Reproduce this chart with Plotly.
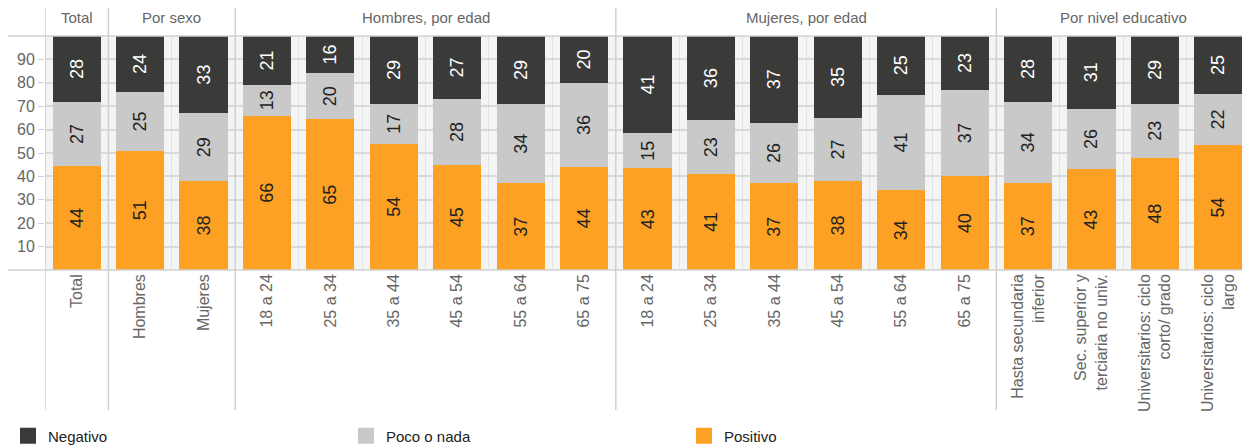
import plotly.graph_objects as go

# Categories (x axis) and group headers
categorias = ['Total', 'Hombres', 'Mujeres',
              '18 a 24', '25 a 34', '35 a 44', '45 a 54', '55 a 64', '65 a 75',
              '18 a 24', '25 a 34', '35 a 44', '45 a 54', '55 a 64', '65 a 75',
              'Hasta secundaria<br>inferior', 'Sec. superior y<br>terciaria no univ.',
              'Universitarios: ciclo<br>corto/ grado', 'Universitarios: ciclo<br>largo']
grupos = ['Total', 'Por sexo', 'Hombres, por edad', 'Mujeres, por edad', 'Por nivel educativo']
grupo_tamanos = [1, 2, 6, 6, 4]

# Series values (%)
positivo = [44, 51, 38, 66, 65, 54, 45, 37, 44, 43, 41, 37, 38, 34, 40, 37, 43, 48, 54]
poco_nada = [27, 25, 29, 13, 20, 17, 28, 34, 36, 15, 23, 26, 27, 41, 37, 34, 26, 23, 22]
negativo = [28, 24, 33, 21, 16, 29, 27, 29, 20, 41, 36, 37, 35, 25, 23, 28, 31, 29, 25]

y_ticks = [10, 20, 30, 40, 50, 60, 70, 80, 90]

x = list(range(len(categorias)))
FONT = 'Liberation Sans, Arial, sans-serif'
GRIS_TXT = '#666666'
LINEA = '#d0d0d0'

series = [('Positivo', positivo, '#fda124', '#222222'),
          ('Poco o nada', poco_nada, '#c9c9c9', '#222222'),
          ('Negativo', negativo, '#3a3a39', '#ffffff')]

fig = go.Figure()

for nombre, valores, color, txtcolor in series:
    fig.add_trace(go.Bar(
        x=x, y=valores, name=nombre, showlegend=False,
        marker=dict(color=color, line=dict(width=0)),
        text=[str(v) for v in valores], texttemplate='%{text}',
        textposition='inside', insidetextanchor='middle', textangle=-90,
        textfont=dict(color=txtcolor, size=18, family=FONT),
        hoverinfo='name+y'))

# legend entries with larger square swatches
for nombre, valores, color, txtcolor in reversed(series):
    fig.add_trace(go.Scatter(x=[None], y=[None], mode='markers', name=nombre,
                             marker=dict(symbol='square', size=16, color=color)))

# group separators and header labels
shapes = []
annotations = []
inicio = 0
bordes = [-0.5]
for nombre, n in zip(grupos, grupo_tamanos):
    centro = inicio + (n - 1) / 2
    annotations.append(dict(x=centro, y=1.077, xref='x', yref='paper', text=nombre,
                            yanchor='middle', xanchor='center', showarrow=False,
                            font=dict(size=15, color=GRIS_TXT, family=FONT)))
    inicio += n
    bordes.append(inicio - 0.5)

for b in bordes[:-1]:
    shapes.append(dict(type='line', xref='x', yref='paper', x0=b, x1=b, y0=-0.598, y1=1.12,
                       line=dict(color=LINEA, width=1.5)))

# horizontal rules at top and bottom of plot, extended to the left
for yy in [0, 1]:
    shapes.append(dict(type='line', xref='paper', yref='paper', x0=-0.031, x1=1, y0=yy, y1=yy,
                       line=dict(color=LINEA, width=1.5)))

# page body keeps an 8px margin, so the figure is 8px smaller on each axis
fig.update_layout(
    barmode='stack', barnorm='percent', bargap=0.24,
    width=1242, height=440,
    margin=dict(l=37, r=0, t=28, b=178, autoexpand=False),
    paper_bgcolor='white', plot_bgcolor='#f4f4f4',
    font=dict(family=FONT, size=15, color=GRIS_TXT),
    uniformtext=dict(minsize=18, mode='show'),
    shapes=shapes, annotations=annotations,
    legend=dict(orientation='h', xref='container', yref='container', traceorder='normal',
                x=-0.0153, xanchor='left', y=0.027, yanchor='middle',
                entrywidth=293, entrywidthmode='pixels', itemclick=False,
                font=dict(size=15, color='#222222', family=FONT)),
    xaxis=dict(tickmode='array', tickvals=x, ticktext=categorias, tickangle=-90,
               range=[-0.5, len(x) - 0.5], showgrid=False, zeroline=False, ticks='',
               automargin=False, tickfont=dict(size=16, color=GRIS_TXT),
               minor=dict(tickvals=[i + 0.5 for i in x[:-1]], showgrid=True,
                          gridcolor='#e2e2e2', gridwidth=1)),
    yaxis=dict(range=[0, 100], tickvals=y_ticks, showgrid=True, gridcolor='#d9d9d9',
               gridwidth=1.5, zeroline=False, ticks='outside', ticklen=6, tickcolor=LINEA,
               automargin=False, tickfont=dict(size=16, color=GRIS_TXT)),
)

fig.write_html('out.html')
